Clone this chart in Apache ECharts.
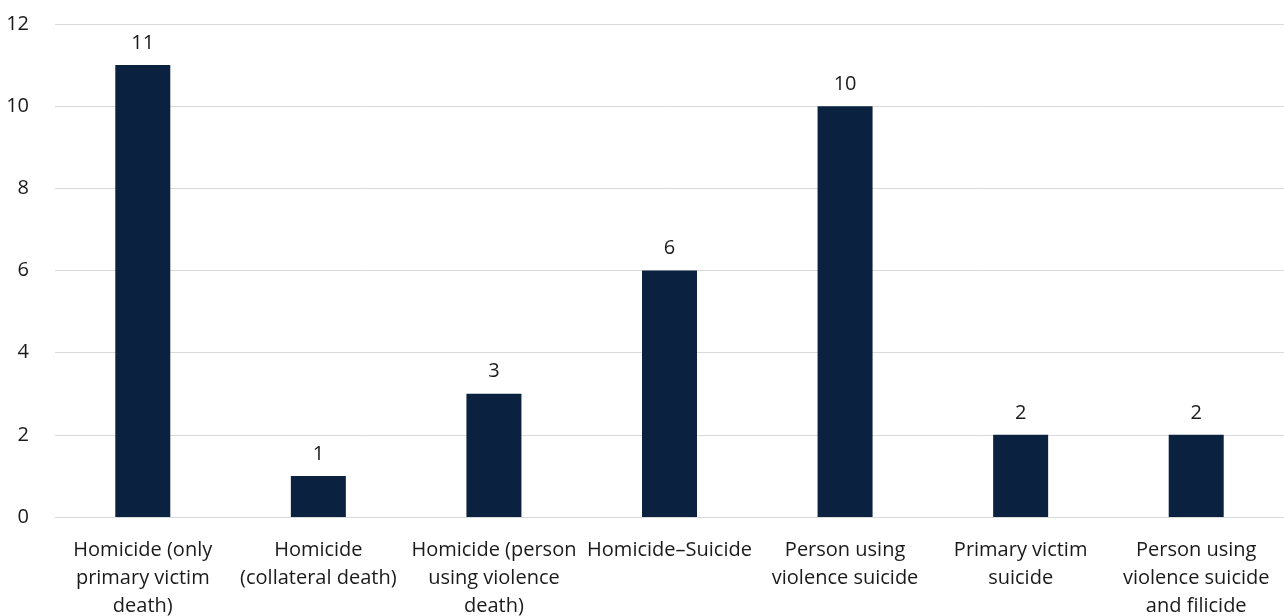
<!DOCTYPE html>
<html>
<head>
<meta charset="utf-8">
<script src="https://cdn.jsdelivr.net/npm/echarts@6/dist/echarts.min.js"></script>
<style>
  html, body { margin: 0; padding: 0; background: #fff; }
  #main { width: 1284px; height: 616px; }
</style>
</head>
<body>
<div id="main"></div>
<script>
// categories, wrapped the way the source chart shows them
let categories = [
  'Homicide (only\nprimary victim\ndeath)',
  'Homicide\n(collateral death)',
  'Homicide (person\nusing violence\ndeath)',
  'Homicide\u2013Suicide',
  'Person using\nviolence suicide',
  'Primary victim\nsuicide',
  'Person using\nviolence suicide\nand filicide'
]
let deaths = [11, 1, 3, 6, 10, 2, 2]
let yTicks = [0, 2, 4, 6, 8, 10, 12]

let fontName = '"Open Sans", "Noto Sans", sans-serif'

let option = {
  animation: false,
  grid: {
    left: 55,
    right: 0,
    top: 24,
    bottom: 99,
    outerBoundsMode: 'none',
    containLabel: false
  },
  xAxis: {
    type: 'category',
    data: categories,
    axisLine: { show: true, lineStyle: { color: '#d9d9d9', width: 1 } },
    axisTick: { show: false },
    axisLabel: {
      interval: 0,
      margin: 19,
      color: '#1a1a1a',
      fontSize: 20,
      fontFamily: fontName,
      lineHeight: 28
    }
  },
  yAxis: {
    type: 'value',
    min: yTicks[0],
    max: yTicks[yTicks.length - 1],
    interval: 2,
    axisLine: { show: false },
    axisTick: { show: false },
    axisLabel: {
      color: '#1a1a1a',
      fontSize: 20,
      fontFamily: fontName,
      margin: 26,
      align: 'right'
    },
    splitLine: { lineStyle: { color: '#d9d9d9', width: 1 } }
  },
  series: [
    {
      type: 'bar',
      data: deaths,
      barWidth: 55,
      itemStyle: { color: '#0a2240' },
      label: {
        show: true,
        position: 'top',
        distance: 12,
        color: '#1a1a1a',
        fontSize: 20,
        fontFamily: fontName
      }
    }
  ]
}

let myChart = echarts.init(document.getElementById('main'))
myChart.setOption(option)
</script>
</body>
</html>
